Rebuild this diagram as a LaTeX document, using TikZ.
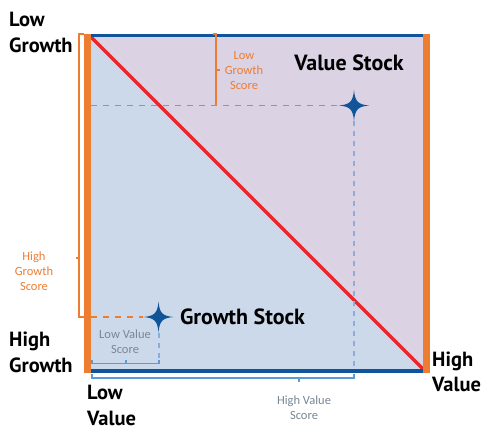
\documentclass[tikz,border=0pt]{standalone}
\usepackage{fontspec}
\setmainfont{Carlito}
\newfontfamily\lblfont{PT Sans}
\definecolor{fillpurple}{RGB}{219,210,228}
\definecolor{fillblue}{RGB}{204,217,234}
\definecolor{axisblue}{RGB}{14,85,158}
\definecolor{barorange}{RGB}{237,125,49}
\definecolor{diagred}{RGB}{232,38,43}
\definecolor{starblue}{RGB}{15,85,151}
\definecolor{dashblue}{RGB}{143,170,220}
\definecolor{brblue}{RGB}{91,155,213}
\definecolor{greytext}{RGB}{120,134,150}
\tikzset{
  biglabel/.style={font=\lblfont\bfseries\fontsize{20.5}{25.5}\selectfont, inner sep=0pt, align=left, anchor=west},
  stocklabel/.style={font=\lblfont\bfseries\fontsize{22}{26}\selectfont, inner sep=0pt},
  orangenote/.style={font=\fontsize{12.5}{15}\selectfont, text=barorange, align=center, inner sep=0pt},
  greynote/.style={font=\fontsize{12.5}{14.7}\selectfont, text=greytext, align=center, inner sep=0pt},
  obracket/.style={draw=barorange, line width=1.1pt},
  bbracket/.style={draw=brblue, line width=1.1pt},
  odash/.style={draw=barorange, line width=1.2pt, dash pattern=on 6pt off 6pt},
  bdash/.style={draw=dashblue, line width=1.1pt, dash pattern=on 5pt off 5pt},
  fstar/.pic={\fill[starblue] (15,0) .. controls (4,1) and (1,4) .. (0,15.5) .. controls (-1,4) and (-4,1) .. (-15,0) .. controls (-4,-1) and (-1,-4) .. (0,-15.5) .. controls (1,-4) and (4,-1) .. cycle;}
}
\begin{document}
\begin{tikzpicture}[x=1pt,y=-1pt]
\useasboundingbox (0,0) rectangle (481,429);
% corners of the square
\coordinate (tl) at (91,37);
\coordinate (tr) at (423,37);
\coordinate (bl) at (91,369);
\coordinate (br) at (423,369);
% fills
\fill[fillblue] (tl) -- (br) -- (bl) -- cycle;
\fill[fillpurple] (tl) -- (tr) -- (br) -- cycle;
% diagonal
\draw[diagred, line width=3.4pt] (tl) -- (br);
% axes
\fill[axisblue] (91,33.5) rectangle (423,37);
\fill[axisblue] (84,369) rectangle (423,372.8);
\fill[barorange] (84,34) rectangle (91,373);
\fill[barorange] (423,34) rectangle (430,373);
% stars
\coordinate (vstar) at (354,105.5);
\coordinate (gstar) at (158.5,317);
\pic at (vstar) {fstar};
\pic at (gstar) {fstar};
% dashed guides
\coordinate (vdashL) at (91,105.5);
\coordinate (vdashR) at (340,105.5);
\coordinate (vdashT) at (354,121);
\coordinate (vdashB) at (354,369);
\draw[odash] (vdashL) -- (vdashR);
\draw[bdash] (vdashT) -- (vdashB);
\coordinate (gdashL) at (91,317);
\coordinate (gdashR) at (143,317);
\coordinate (gdashT) at (159,333);
\coordinate (gdashB) at (159,363.5);
\draw[odash] (gdashL) -- (gdashR);
\draw[bdash] (gdashT) -- (gdashB);
% high growth bracket
\draw[obracket] (84,34) -- (79,34) -- (79,317) -- (84,317);
\draw[obracket] (79,258) -- (75.5,258);
% low growth bracket
\draw[obracket] (212.5,34) -- (216,34) -- (216,105.5);
\draw[obracket] (216,70) -- (219.5,70);
% low value bracket
\draw[bbracket] (92,360) -- (92,363.5) -- (159,363.5) -- (159,360);
\draw[bbracket] (126,363.5) -- (126,360);
% high value bracket
\draw[bbracket] (92,374) -- (92,378) -- (354,378) -- (354,374);
\draw[bbracket] (299,378) -- (299,381.5);
% labels
\node[biglabel] (lowgrowth) at (9,32.5) {Low\\Growth};
\node[biglabel] (highgrowth) at (9,352.5) {High\\Growth};
\node[biglabel] (lowvalue) at (87,405.5) {Low\\Value};
\node[biglabel] (highvalue) at (432,372) {High\\Value};
\node[stocklabel] (valuestock) at (349,63) {Value Stock};
\node[stocklabel] (growthstock) at (242.5,316.5) {Growth Stock};
\node[orangenote] (lgscore) at (244,71) {Low\\Growth\\Score};
\node[orangenote] (hgscore) at (34,271) {High\\Growth\\Score};
\node[greynote] (lvscore) at (125,342) {Low Value\\Score};
\node[greynote] (hvscore) at (304,408) {High Value\\Score};
\end{tikzpicture}
\end{document}
